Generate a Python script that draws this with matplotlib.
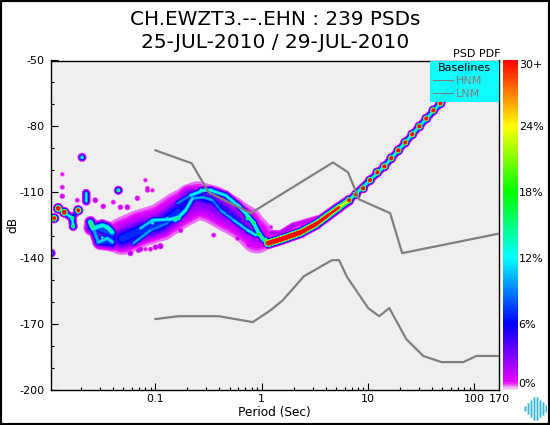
import numpy as np
import matplotlib
matplotlib.use('Agg')
import matplotlib.pyplot as plt
from matplotlib.collections import LineCollection
from matplotlib.colors import LinearSegmentedColormap, Normalize
from matplotlib.cm import ScalarMappable
from matplotlib.lines import Line2D
from matplotlib.patches import Rectangle
from matplotlib.ticker import NullFormatter

plt.rcParams['axes.unicode_minus'] = False
plt.rcParams['font.family'] = 'DejaVu Sans'

# noise models
hnm_period = [0.1, 0.219, 0.316, 0.787, 4.67, 6.47, 8.2, 16.1, 20.9, 170]
hnm_db = [-90.9, -96.8, -110, -119.5, -96.4, -100.9, -113.2, -119.5, -137.7, -128.8]
lnm_period = [0.1, 0.165, 0.393, 0.822, 1.216, 1.578, 2.49, 4.57, 5.33, 6.34, 10, 12.7, 15.8, 22.8, 33, 48.9, 78.6, 104, 170]
lnm_db = [-167.7, -166.4, -166.4, -169.1, -163.6, -159.1, -148.2, -140.9, -140.9, -148.6, -162.7, -166.4, -162.7, -176.8, -184.5, -187.3, -187.3, -184.5, -184.5]

# PDF ridges, period / dB / percent along each one
band_period = [0.0489, 0.0722, 0.1114, 0.1647, 0.249, 0.3449, 0.5, 0.7065, 0.9]
band_db = [-130, -126.4, -123.6, -118.2, -113.6, -115.5, -120, -124.5, -130]
band_pct = [3.5, 3.5, 3.5, 3.5, 3.5, 3.5, 3.5, 3, 2.5]

mid_period = [0.0489, 0.0722, 0.1114, 0.1647, 0.2138]
mid_db = [-131, -127.5, -124.5, -118.5, -113]
mid_pct = [8, 8, 8, 7.5, 6.5]

mid2_period = [0.2234, 0.3304, 0.4575, 0.5939, 0.7379]
mid2_db = [-111.4, -113.6, -118.2, -122.7, -127.3]
mid2_pct = [7, 7, 6, 5.5, 5]

strand_a_period = [0.1613, 0.2138, 0.2837, 0.3304, 0.4575, 0.5939, 0.7065, 0.8408, 0.9372, 1.044]
strand_a_db = [-115, -111.4, -109.1, -109.1, -111.4, -115.9, -119.5, -124.1, -128.6, -131.8]
strand_a_pct = [10, 13, 14, 15, 13, 14, 15, 15, 16, 18]

strand_b_period = [0.0722, 0.0937, 0.1386, 0.1647, 0.1919, 0.2234, 0.2837, 0.3449]
strand_b_db = [-126.4, -122.7, -122.3, -121.4, -118.2, -112.7, -112.3, -113.6]
strand_b_pct = [12, 13, 14, 16, 14, 13, 11, 11]

strand_c_period = [0.062, 0.0897, 0.1298, 0.1647]
strand_c_db = [-133.2, -127.3, -124.1, -120]
strand_c_pct = [11, 11, 10, 9]

strand_d_period = [0.3449, 0.4102, 0.5445, 0.7379, 0.8779]
strand_d_db = [-113.6, -118.2, -122.7, -127.3, -129.5]
strand_d_pct = [10, 11, 12, 13, 14]

ramp_period = [1.14, 1.51, 2.33, 3.23, 4.19, 5.33, 6.62]
ramp_db = [-133.2, -131.4, -128.2, -124.5, -120.5, -116.8, -113.6]
ramp_pct = [60, 60, 60, 50, 40, 35, 26]

steep_period = [6.62, 14.2, 30.3, 47.8, 87.7]
steep_db = [-113.6, -98.2, -80, -69.5, -53.2]
steep_pct = [15, 15, 15, 15, 15]

shoulder_period = [1.216, 1.51, 2.0, 3.37]
shoulder_db = [-128.6, -128.6, -125, -121.8]
shoulder_pct = [2.5, 2.5, 2.5, 2]

left_a_period = [0.01216, 0.01386, 0.01648, 0.01684]
left_a_db = [-117.3, -119.1, -121.8, -125.5]
left_a_pct = [14, 14, 13, 13]
left_b_period = [0.01648, 0.01878]
left_b_db = [-121.8, -118.2]
left_b_pct = [8, 8]
vert_period = [0.0223, 0.0223]
vert_db = [-110.5, -114.1]
vert_pct = [14, 13]

cluster_fill_period = [0.0253, 0.0316, 0.0393, 0.0393, 0.0305]
cluster_fill_db = [-126, -127, -129, -133, -132.5]
cluster_fill_pct = [9, 9, 9, 8, 8]
cluster_a_period = [0.0244, 0.026, 0.0316, 0.0353, 0.0393]
cluster_a_db = [-123.6, -126.4, -125, -125.9, -128.2]
cluster_a_pct = [17, 19, 14, 17, 15]
cluster_b_period = [0.026, 0.029, 0.0353, 0.0393]
cluster_b_db = [-126.4, -132.7, -131, -132.7]
cluster_b_pct = [11, 12, 12, 12]

# single blobs
bead_period = [6.62, 7.7, 8.97, 10.4, 12.2, 14.2, 16.5, 19.2, 22.3, 26, 30.3, 35.2, 41, 47.8, 55.6, 64.7, 75.4, 87.7]
bead_db = [-113.6, -110.9, -108.2, -104.5, -100.9, -98.2, -94.5, -90.9, -87.3, -83.6, -80, -76.4, -72.7, -69.5, -65.9, -61.8, -57.7, -53.2]
bead_pct = [60] * 18

blob_period = [0.0204, 0.0448, 0.01115, 0.01216, 0.01386, 0.01648, 0.01684, 0.01878, 0.0105, 0.0316]
blob_db = [-94.1, -109.1, -121.8, -117.3, -119.1, -121.8, -125.5, -118.2, -137.7, -130.5]
blob_pct = [16, 18, 50, 70, 70, 20, 20, 50, 13, 13]

spot_period = [0.7379, 0.8408, 0.9372, 1.08, 0.1538, 0.1647, 0.2686, 0.0937, 0.1298]
spot_db = [-121.8, -124.1, -129, -131.8, -122.7, -121.8, -109.1, -124, -122]
spot_pct = [20, 20, 22, 24, 17, 19, 15, 14, 14]

speck_period = [0.0133, 0.0133, 0.0133, 0.0184, 0.0272, 0.0323, 0.0402, 0.0805, 0.0841, 0.0676, 1.216, 0.1, 0.0805,
                0.0841, 0.0937, 0.0544, 0.0468, 0.0581, 0.0468, 0.0722, 0.1114, 0.0897, 0.0691, 0.7534, 0.5939, 0.3526, 0.1722]
speck_db = [-101.8, -107.7, -111.8, -113.6, -113.6, -116.4, -114.5, -104.5, -109.1, -112.7, -125.9, -135, -135.9,
            -108.2, -109.1, -116.8, -116.8, -137.7, -135.5, -135.9, -134.5, -135.9, -136.4, -134.1, -130.9, -129.5, -127.3]
speck_pct = [1.2, 1.5, 2, 1.5, 2.5, 2, 1.5, 1.2, 1.5, 2, 1.2, 2.5, 1.2,
             1.5, 1.2, 2.5, 2, 3, 2, 2.5, 3, 1.5, 2, 2, 2, 1.5, 2]

ridges = [
    (band_period, band_db, band_pct, 9),
    (mid_period, mid_db, mid_pct, 6.5),
    (mid2_period, mid2_db, mid2_pct, 4.5),
    (shoulder_period, shoulder_db, shoulder_pct, 1.8),
    (strand_c_period, strand_c_db, strand_c_pct, 1.8),
    (strand_d_period, strand_d_db, strand_d_pct, 1.7),
    (strand_b_period, strand_b_db, strand_b_pct, 1.9),
    (strand_a_period, strand_a_db, strand_a_pct, 1.9),
    (ramp_period, ramp_db, ramp_pct, 1.9),
    (steep_period, steep_db, steep_pct, 1.5),
    (left_a_period, left_a_db, left_a_pct, 1.7),
    (left_b_period, left_b_db, left_b_pct, 1.5),
    (vert_period, vert_db, vert_pct, 1.7),
    (cluster_fill_period, cluster_fill_db, cluster_fill_pct, 3.5),
    (cluster_a_period, cluster_a_db, cluster_a_pct, 2.3),
    (cluster_b_period, cluster_b_db, cluster_b_pct, 2.3),
]
dots = [
    (bead_period, bead_db, bead_pct, 1.6),
    (blob_period, blob_db, blob_pct, 1.7),
    (spot_period, spot_db, spot_pct, 1.8),
    (speck_period, speck_db, speck_pct, 1.6),
]

pdf_cmap = LinearSegmentedColormap.from_list('pdf', [
    (0 / 30, (0.95, 0.88, 0.96)), (0.7 / 30, (0.9, 0, 1)), (6 / 30, (0, 0, 1)),
    (12 / 30, (0, 1, 1)), (18 / 30, (0, 1, 0)), (24 / 30, (1, 1, 0)), (30 / 30, (1, 0, 0))])
norm = Normalize(0, 30)
levels = [0.4, 0.7, 1, 1.5, 2, 2.5, 3, 4, 5, 6, 7, 8, 9, 10, 11, 12, 13, 14, 15, 16, 18, 20, 22, 24, 26, 28, 30]


def stroke(peak, level, sigma):
    # stroke width in points where a bump of that peak crosses the level
    return 2 * sigma * np.sqrt(2 * np.log(np.maximum(peak, level) / level)) * 0.72


fig = plt.figure(figsize=(5.5, 4.25), dpi=100)
ax = fig.add_axes([50.5 / 550, 35 / 425, 448.5 / 550, 329.5 / 425])
ax.set_facecolor('#efefef')
ax.set_xscale('log')
ax.set_xlim(0.0103, 170)
ax.set_ylim(-200, -50)

for level in levels:
    color = pdf_cmap(norm(level))
    for period, db, pct, sigma in ridges:
        segs, widths = [], []
        for i in range(len(period) - 1):
            low = min(pct[i], pct[i + 1])
            if low > level:
                segs.append([(period[i], db[i]), (period[i + 1], db[i + 1])])
                widths.append(stroke(low, level, sigma))
        if segs:
            ax.add_collection(LineCollection(segs, colors=[color], linewidths=widths, capstyle='round', zorder=2))
    for period, db, pct, sigma in dots:
        sizes = stroke(np.array(pct, dtype=float), level, sigma) ** 2
        ax.scatter(period, db, s=sizes, color=[color], linewidths=0, zorder=2)

ax.plot(hnm_period, hnm_db, color='#808080', lw=1.6, zorder=3)
ax.plot(lnm_period, lnm_db, color='#808080', lw=1.6, zorder=3)

ax.set_xticks([0.1, 1, 10, 100, 170])
ax.set_xticklabels(['0.1', '1', '10', '100', '170'])
ax.set_yticks(np.arange(-200, -49, 30))
ax.set_yticks(np.arange(-200, -49, 10), minor=True)
ax.xaxis.set_minor_formatter(NullFormatter())
ax.tick_params(which='major', direction='in', length=5, width=0.8, labelsize=8, pad=4)
ax.tick_params(which='minor', direction='in', length=2.5, width=0.8)
ax.tick_params(axis='x', which='major', pad=3)
ax.get_xticklines()[8].set_visible(False)
ax.set_xlabel('Period (Sec)', fontsize=8.7, labelpad=1)
ax.set_ylabel('dB', fontsize=8.7, labelpad=0)
for spine in ax.spines.values():
    spine.set_linewidth(1.0)

handles = [Line2D([], [], color='#808080', lw=0.8, label='HNM'),
           Line2D([], [], color='#808080', lw=0.8, label='LNM')]
leg = ax.legend(handles=handles, title='Baselines', loc='upper left', bbox_to_anchor=(0.846, 0.5, 0.154, 0.5),
                mode='expand', borderaxespad=0, fontsize=8, title_fontsize=8, facecolor='cyan',
                framealpha=0.93, edgecolor='none', fancybox=False, labelcolor='#808080',
                handlelength=1.8, handletextpad=0.3, labelspacing=0.25, borderpad=0.25)
leg.set_zorder(5)

fig.text(0.5, 0.953, 'CH.EWZT3.--.EHN : 239 PSDs', ha='center', va='center', fontsize=14.4)
fig.text(0.5, 0.901, '25-JUL-2010 / 29-JUL-2010', ha='center', va='center', fontsize=14.5)
fig.text(477 / 550, 1 - 54 / 425, 'PSD PDF', ha='center', va='center', fontsize=8)

cax = fig.add_axes([503 / 550, 35 / 425, 15 / 550, 330 / 425])
cb = fig.colorbar(ScalarMappable(norm=norm, cmap=pdf_cmap), cax=cax)
cb.outline.set_visible(False)
cb.set_ticks([0.6, 6, 12, 18, 24, 29.6])
cb.set_ticklabels(['0%', '6%', '12%', '18%', '24%', '30+'])
cax.tick_params(length=0, labelsize=8, pad=0.5)

# little waveform logo
logo_x = [1, 2, 3, 4, 5, 6, 7, 8]
logo_half = [3, 6, 9, 12, 12, 9, 7, 4]
lax = fig.add_axes([523 / 550, 4 / 425, 24 / 550, 25 / 425])
lax.vlines(logo_x, -np.array(logo_half), logo_half, color='#a8e0ee', lw=2.2)
lax.vlines(logo_x, -np.array(logo_half), logo_half, color='#35b5d5', lw=0.7)
lax.set_xlim(0.5, 8.5)
lax.set_ylim(-13, 13)
lax.axis('off')

fig.add_artist(Rectangle((0, 0), 1, 1, transform=fig.transFigure, fill=False, edgecolor='k', lw=3))
fig.savefig('out.png', dpi=100)
